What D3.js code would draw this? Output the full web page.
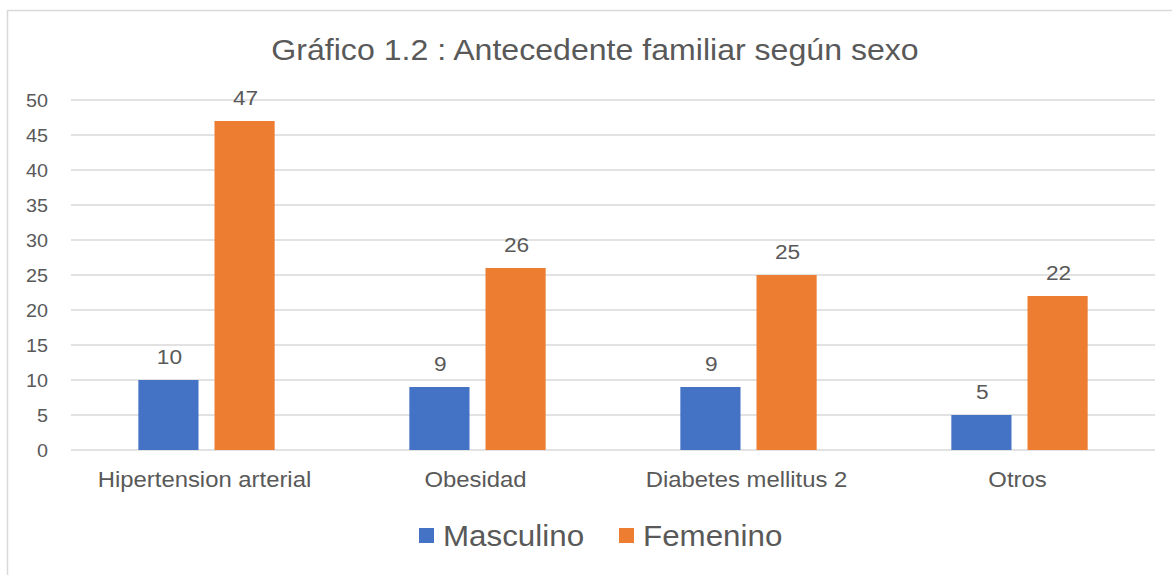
<!DOCTYPE html>
<html lang="es">
<head>
  <meta charset="UTF-8">
  <title>Gráfico 1.2</title>
  <script src="https://d3js.org/d3.v7.min.js"></script>
  <style>
    body { margin: 0; background: #fff; }
    text { font-family: "Liberation Sans", Arial, sans-serif; fill: #595959; }
  </style>
</head>
<body>
  <div id="chart"></div>
  <script>

  // data
  const categories = ["Hipertension arterial", "Obesidad", "Diabetes mellitus 2", "Otros"];
  const masculino = [10, 9, 9, 5];
  const femenino = [47, 26, 25, 22];
  const seriesNames = ["Masculino", "Femenino"];
  const seriesColors = ["#4472C4", "#ED7D31"];
  const yTicks = [0, 5, 10, 15, 20, 25, 30, 35, 40, 45, 50];

  const width = 1172;
  const height = 575;
  const margin = {top: 100, left: 71, right: 17, bottom: 125};

  // the source screenshot is a little wider than tall, so text gets a slight x stretch
  function place(sel, x, y, sx) {
    return sel.attr("transform", d =>
      "translate(" + (typeof x === "function" ? x(d) : x) + "," +
      (typeof y === "function" ? y(d) : y) + ") scale(" + sx + ",1)");
  }

  const svg = d3.select("#chart")
    .append("svg")
      .attr("width", width)
      .attr("height", height);

  // outer chart border (runs off the right/bottom edge like the screenshot)
  svg.append("rect")
    .attr("x", 7.5)
    .attr("y", 10.5)
    .attr("width", width + 20)
    .attr("height", height + 20)
    .attr("fill", "none")
    .attr("stroke", "#d9d9d9")
    .attr("stroke-width", 1.5);

  // title
  place(svg.append("text"), 595, 60, 1.07)
    .attr("text-anchor", "middle")
    .style("font-size", "30px")
    .text("Gráfico 1.2 : Antecedente familiar según sexo");

  const x0 = d3.scaleBand()
    .domain(categories)
    .range([margin.left, width - margin.right])
    .padding(0);

  const y = d3.scaleLinear()
    .domain([0, 50])
    .range([height - margin.bottom, margin.top]);

  // gridlines
  svg.append("g")
    .selectAll("line")
    .data(yTicks)
    .enter()
    .append("line")
      .attr("x1", margin.left)
      .attr("x2", width - margin.right)
      .attr("y1", d => y(d))
      .attr("y2", d => y(d))
      .attr("stroke", "#d9d9d9")
      .attr("stroke-width", 1.5);

  // y axis labels
  const yAxis = svg.append("g")
    .attr("transform", "translate(" + (margin.left - 23) + ",0)")
    .call(d3.axisLeft(y).tickValues(yTicks).tickSize(0).tickPadding(0));
  yAxis.select(".domain").remove();
  yAxis.selectAll("text")
    .style("font-size", "19px")
    .attr("fill", "#595959")
    .attr("dy", "0.35em")
    .attr("transform", "scale(1.04,1)");

  // bars, two per category
  const barW = x0.bandwidth() * 0.222;
  const gap = x0.bandwidth() * 0.059;
  const x1 = d3.scaleOrdinal()
    .domain(seriesNames)
    .range([-gap / 2 - barW, gap / 2]);

  const rows = categories.map((c, i) => ({cat: c, values: [masculino[i], femenino[i]]}));

  const groups = svg.append("g")
    .selectAll("g")
    .data(rows)
    .enter()
    .append("g")
      .attr("transform", d => "translate(" + (x0(d.cat) + x0.bandwidth() / 2) + ",0)");

  groups.selectAll("rect")
    .data(d => d.values.map((v, j) => ({name: seriesNames[j], value: v, j: j})))
    .enter()
    .append("rect")
      .attr("x", d => x1(d.name))
      .attr("y", d => y(d.value))
      .attr("width", barW)
      .attr("height", d => y(0) - y(d.value))
      .attr("fill", d => seriesColors[d.j]);

  place(groups.selectAll("text.val")
    .data(d => d.values.map((v, j) => ({name: seriesNames[j], value: v})))
    .enter()
    .append("text"),
      d => x1(d.name) + barW / 2 + 1, d => y(d.value) - 16, 1.08)
      .attr("class", "val")
      .attr("text-anchor", "middle")
      .style("font-size", "21px")
      .text(d => d.value);

  // category labels
  place(svg.append("g")
    .selectAll("text")
    .data(categories)
    .enter()
    .append("text"),
      d => x0(d) + x0.bandwidth() / 2 - 2, 487, 1.085)
      .attr("text-anchor", "middle")
      .style("font-size", "22px")
      .text(d => d);

  // legend
  const legendX = [419, 619];
  const legend = svg.append("g")
    .selectAll("g")
    .data(seriesNames)
    .enter()
    .append("g")
      .attr("transform", (d, i) => "translate(" + legendX[i] + ",528)");
  legend.append("rect")
    .attr("width", 15)
    .attr("height", 15)
    .attr("fill", (d, i) => seriesColors[i]);
  place(legend.append("text"), 24, 18, 1.045)
    .style("font-size", "30px")
    .text(d => d);

  </script>
</body>
</html>
